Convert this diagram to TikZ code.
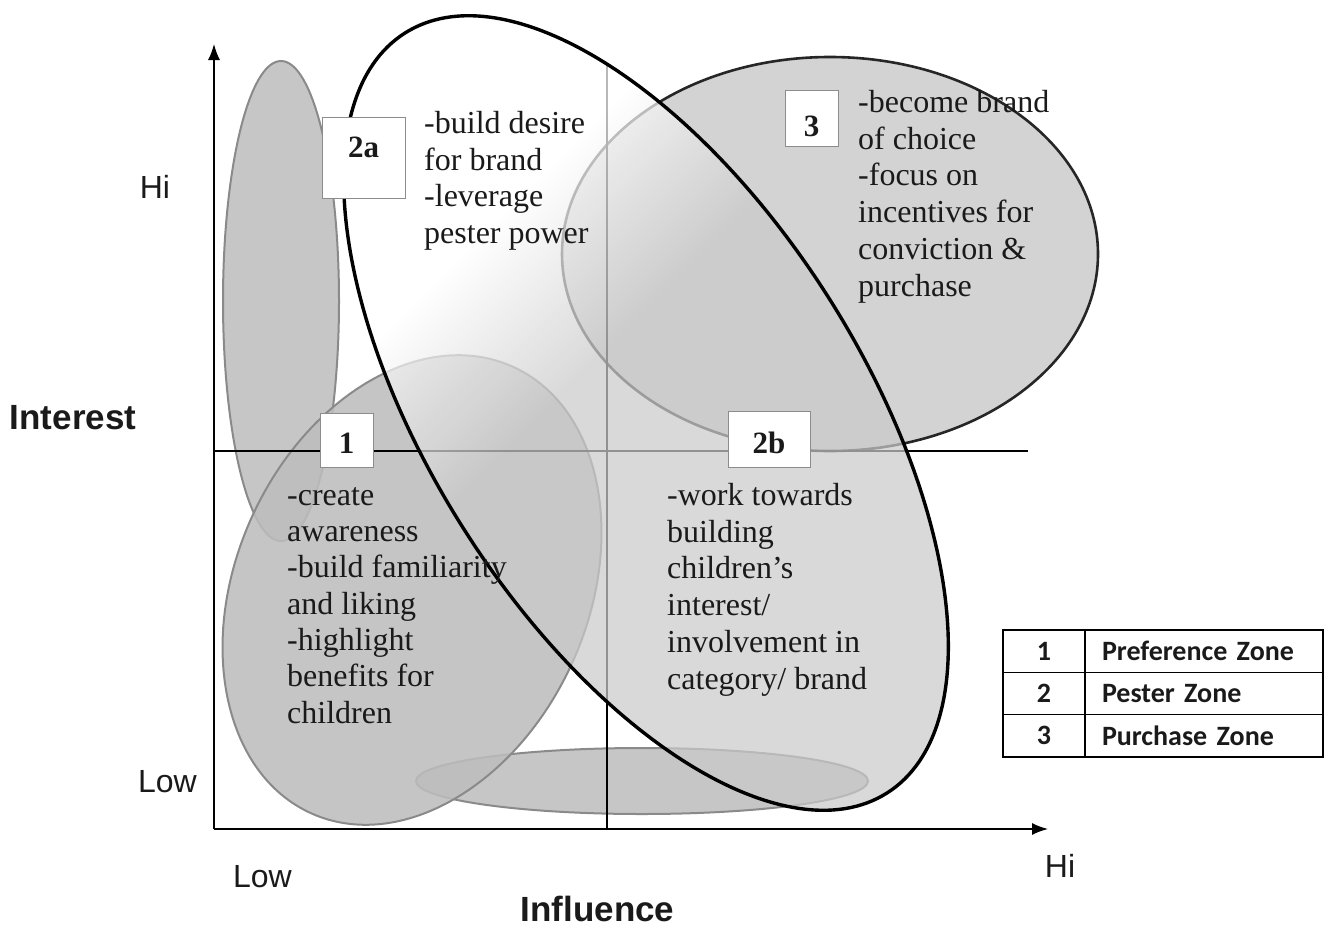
\documentclass[tikz,border=0pt]{standalone}
\usepackage{fontspec}
\setmainfont{Liberation Serif}
\newfontfamily\arialfont{Liberation Sans}
\newfontfamily\calibrifont{Carlito}
\usetikzlibrary{arrows.meta,calc}

\definecolor{inkgray}{HTML}{1A1A1A}
\definecolor{zonefillA}{HTML}{C6C6C6}
\definecolor{zonefillB}{HTML}{BDBDBD}
\definecolor{zonefillC}{HTML}{D3D3D3}
\definecolor{zoneline}{HTML}{8A8A8A}
\definecolor{fadegray}{HTML}{CACACA}
\definecolor{boxline}{HTML}{8C8C8C}

% pester-zone fill: white towards the upper left, light grey towards the lower right
\pgfdeclareverticalshading{pesterfade}{100bp}{color(0bp)=(fadegray); color(55bp)=(fadegray); color(67bp)=(white); color(100bp)=(white)}

\newcommand{\tstrut}{\rule{0pt}{23pt}}

\begin{document}
\begin{tikzpicture}[x=1pt,y=-1pt,
  zoneA/.style={fill=zonefillA, draw=zoneline, line width=2pt},
  zoneB/.style={fill=zonefillB, fill opacity=0.88, draw=zoneline, line width=2pt},
  zoneC/.style={fill=zonefillC, draw=black!85, line width=2.6pt},
  divider/.style={draw=black, line width=1.2pt},
  axisline/.style={draw=black, line width=1.4pt, -{Latex[length=16pt,width=12pt]}},
  numbox/.style={draw=boxline, fill=white, line width=1pt, inner sep=0pt},
  numtext/.style={font=\fontsize{31}{36}\selectfont\bfseries, text=inkgray, inner sep=0pt},
  zonetext/.style={anchor=north west, inner sep=0pt, align=left,
    font=\fontsize{32}{36.8}\selectfont, text=inkgray},
  axislabel/.style={font=\arialfont\fontsize{32}{36}\selectfont, text=inkgray, inner sep=0pt},
  axistitle/.style={font=\arialfont\bfseries\fontsize{35}{40}\selectfont, text=inkgray, inner sep=0pt},
  cell/.style={draw=black, line width=1.4pt, minimum height=42.3pt, inner sep=0pt,
    font=\calibrifont\bfseries\fontsize{28}{32}\selectfont, text=inkgray},
]
\useasboundingbox (0,0) rectangle (1330,929);

% grey zone ellipses
\path[zoneA] (281,301) ellipse [x radius=58, y radius=240];
\path[zoneA] (642,781) ellipse [x radius=226, y radius=33];
\path[zoneB, rotate around={65.7:(412,590)}] (412,590) ellipse [x radius=245, y radius=176];
\path[zoneC] (830,254) ellipse [x radius=268, y radius=197];

% quadrant dividers
\coordinate (hL) at (214,451);
\coordinate (hR) at (1028,451);
\coordinate (vT) at (607,65);
\coordinate (vB) at (607,829);
\draw[divider] (hL) -- (hR);
\draw[divider] (vT) -- (vB);

% pester zone
\path[rotate around={-57.6:(646,413)}, shading=pesterfade, shading angle=45, fill opacity=0.72]
  (646,413) ellipse [x radius=450, y radius=216];
\draw[black, line width=3.4pt, rotate around={-57.6:(646,413)}]
  (646,413) ellipse [x radius=450, y radius=216];

% axes
\coordinate (origin) at (214,829);
\coordinate (ytip) at (214,44);
\coordinate (xtip) at (1048,829);
\draw[axisline] (origin) -- (ytip);
\draw[axisline] (origin) -- (xtip);

% zone number boxes
\node[numbox, minimum width=83pt, minimum height=81pt] (box2a) at (363.5,157.5) {};
\node[numtext] (n2a) at (363.5,147) {2a};
\node[numbox, minimum width=53pt, minimum height=54pt] (box1) at (346.5,440) {};
\node[numtext] (n1) at (346.5,443) {1};
\node[numbox, minimum width=82pt, minimum height=56pt] (box2b) at (769,439) {};
\node[numtext] (n2b) at (769,443) {2b};
\node[numbox, minimum width=53pt, minimum height=56pt] (box3) at (811.5,118) {};
\node[numtext] (n3) at (811.5,126) {3};

% zone texts
\node[zonetext] (t2a) at (424,110) {\tstrut-build desire\\for brand\\-leverage\\pester power};
\node[zonetext] (t3) at (858,89) {\tstrut-become brand\\of choice\\-focus on\\incentives for\\conviction \&\\purchase};
\node[zonetext, font=\fontsize{32}{36.3}\selectfont] (t1) at (287,482) {\tstrut-create\\awareness\\-build familiarity\\and liking\\-highlight\\benefits for\\children};
\node[zonetext] (t2b) at (667,482) {\tstrut-work towards\\building\\children’s\\interest/\\involvement in\\category/ brand};

% axis labels
\node[axislabel] (yhi) at (155,187) {Hi};
\node[axislabel] (ylow) at (167.5,782) {Low};
\node[axistitle] (ytitle) at (73,418) {Interest};
\node[axislabel] (xlow) at (262.5,877) {Low};
\node[axislabel] (xhi) at (1060,866) {Hi};
\node[axistitle] (xtitle) at (597.5,909) {Influence};

% legend
\node[cell, minimum width=82pt] (k1) at (1044,651.2) {1};
\node[cell, minimum width=82pt] (k2) at (1044,693.5) {2};
\node[cell, minimum width=82pt] (k3) at (1044,735.8) {3};
\node[cell, text width=204pt, inner xsep=17pt, align=left] (z1) at (1204,651.2) {Preference Zone};
\node[cell, text width=204pt, inner xsep=17pt, align=left] (z2) at (1204,693.5) {Pester Zone};
\node[cell, text width=204pt, inner xsep=17pt, align=left] (z3) at (1204,735.8) {Purchase Zone};
\end{tikzpicture}
\end{document}
